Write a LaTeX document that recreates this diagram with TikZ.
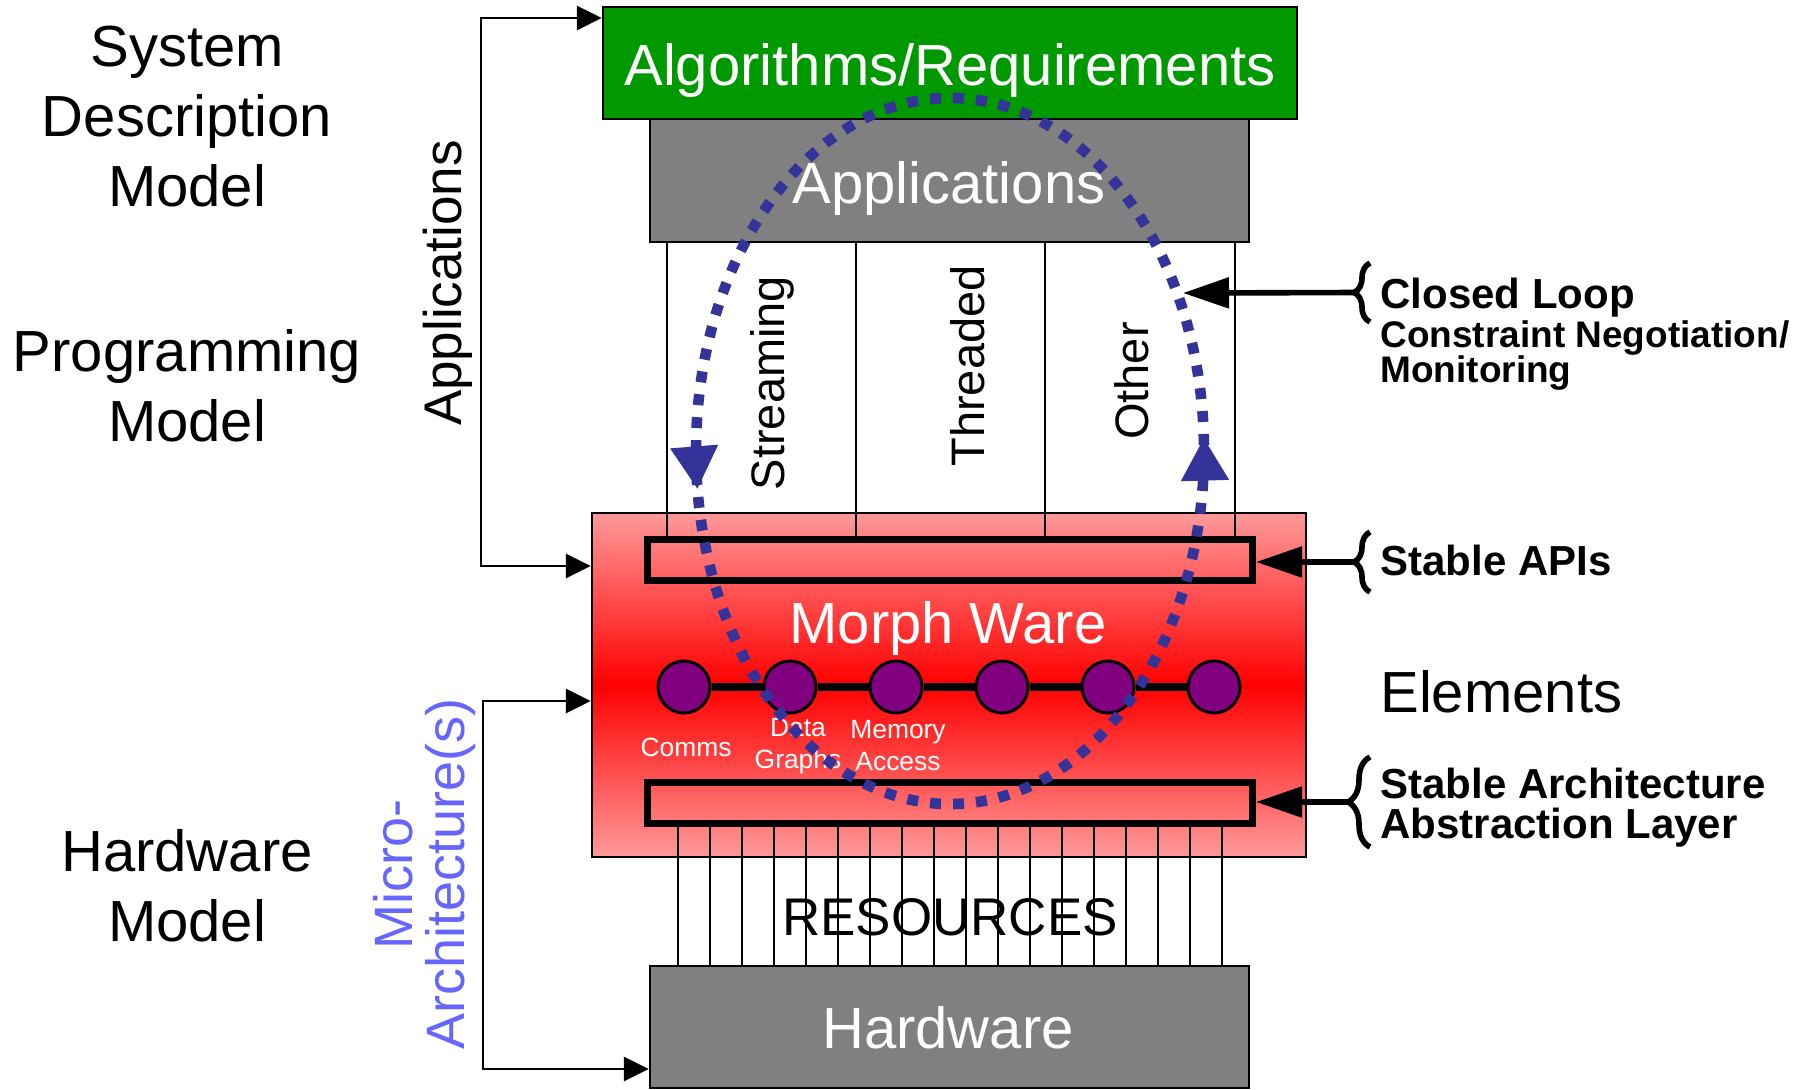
\documentclass[tikz,border=0pt]{standalone}
\usepackage{fontspec}
\setmainfont{Liberation Sans}
\usetikzlibrary{arrows.meta,decorations.pathreplacing,decorations.markings}

\definecolor{algcol}{HTML}{009900}
\definecolor{boxgray}{HTML}{808080}
\definecolor{pinkc}{HTML}{FF9999}
\definecolor{elemcol}{HTML}{800080}
\definecolor{loopcol}{HTML}{333399}
\definecolor{microcol}{HTML}{6666FF}

\begin{document}
\begin{tikzpicture}[x=0.5pt,y=-0.5pt,
  bigtxt/.style={font=\fontsize{29}{35}\selectfont},
  coltxt/.style={font=\fontsize{23.5}{28}\selectfont,rotate=90,anchor=base},
  sidetxt/.style={font=\fontsize{26.5}{30}\selectfont,rotate=90,anchor=base},
  tinytxt/.style={font=\fontsize{13.2}{16}\selectfont,text=white,align=center},
  boldtxt/.style={font=\bfseries\fontsize{21}{24}\selectfont,anchor=base west,inner sep=0pt},
  slab/.style={draw,line width=1.2pt,inner sep=0pt},
  bar/.style={draw,line width=3.5pt,inner sep=0pt,minimum width=302.5pt,minimum height=20.5pt},
  elem/.style={circle,draw,line width=1.5pt,fill=elemcol,minimum size=26pt,inner sep=0pt},
  larrow/.style={line width=1.4pt,{Triangle[length=12.5pt,width=12pt]}-{Triangle[length=12.5pt,width=12pt]}},
  rarrow/.style={line width=2.8pt,-{Triangle[length=23pt,width=15pt]}},
  cbrace/.style={line width=2.8pt,decorate},
  loopline/.style={loopcol,line width=5.3pt,dash pattern=on 5.5pt off 6pt,
    postaction={decorate,solid},
    decoration={markings,
      mark=at position 0.02 with {\arrow{Triangle[length=21.5pt,width=22.5pt]}},
      mark=at position 0.507 with {\arrow{Triangle[length=21.5pt,width=22.5pt]}}}},
]
\newcommand\sidebrace[4]{
\draw[cbrace,decoration={brace,amplitude=#4pt}] (1370,#3) -- (1370,#2);
\coordinate (#1) at ({1370-2*#4},{(#2+#3)/2});
}
\useasboundingbox (0,0) rectangle (1804,1089);

% models on the left
\node[bigtxt,align=center,anchor=north,inner sep=0pt] (sdm) at (187,26) {System\\Description\\Model};
\node[bigtxt,align=center,anchor=north,inner sep=0pt] (pgm) at (187,329) {Programming\\Model};
\node[bigtxt,align=center,anchor=north,inner sep=0pt] (hwm) at (187,829) {Hardware\\Model};

% top stack
\node[slab,fill=algcol,minimum width=347pt,minimum height=56pt] (alg) at (950,63) {};
\node[bigtxt,text=white,anchor=base] (algtxt) at (950,85) {Algorithms/Requirements};
\node[slab,fill=boxgray,minimum width=299.5pt,minimum height=61.5pt] (apps) at (949.5,180.5) {};
\node[bigtxt,text=white,anchor=base] (appstxt) at (949,203) {Applications};

% morph ware
\node[slab,top color=pinkc,bottom color=pinkc,middle color=red,minimum width=357pt,minimum height=172pt] (morph) at (949,685) {};
\foreach \x in {667,856,1045,1235} \draw[line width=0.6pt] (\x,242) -- (\x,537);
\node[bar] (api) at (950,560) {};
\node[bar] (saal) at (950,803) {};
\node[bigtxt,text=white,anchor=base] (mwtxt) at (948,643) {Morph Ware};
\foreach \i/\x in {1/684,2/790,3/896,4/1002,5/1108,6/1214} \node[elem] (e\i) at (\x,687) {};
\foreach \i/\j in {1/2,2/3,3/4,4/5,5/6} \draw[line width=4pt] (e\i) -- (e\j);
\node[tinytxt] (comms) at (686,747) {Comms};
\node[tinytxt] (dgr) at (798,746) {Data\\Graphs};
\node[tinytxt] (macc) at (898,746) {Memory\\Access};

% resources and hardware
\foreach \i in {0,...,17} \draw[line width=0.7pt] (678+32*\i,825) -- (678+32*\i,966);
\node[slab,fill=boxgray,minimum width=299.5pt,minimum height=61pt] (hw) at (949.5,1027) {};
\node[bigtxt,text=white,anchor=base] (hwtxt) at (948,1048) {Hardware};
\node[font=\fontsize{26.5}{30}\selectfont,anchor=base] (restxt) at (950,935) {RESOURCES};

% programming styles
\node[coltxt] (strm) at (784,383) {Streaming};
\node[coltxt] (thrd) at (984,366) {Threaded};
\node[coltxt] (othr) at (1148,381) {Other};

% left brackets
\node[sidetxt] (appl) at (461,283) {Applications};
\coordinate (aptop) at (481,18);
\coordinate (apbot) at (481,566);
\draw[larrow] (aptop -| alg.west) -- (aptop) -- (apbot) -- (apbot -| morph.west);
\node[sidetxt,font=\fontsize{27}{30}\selectfont,text=microcol] (micro) at (412,874) {Micro-};
\node[sidetxt,font=\fontsize{27}{30}\selectfont,text=microcol] (march) at (464,874) {Architecture(s)};
\coordinate (mtop) at (483,701);
\coordinate (mbot) at (483,1069);
\draw[larrow] (mtop -| morph.west) -- (mtop) -- (mbot) -- (mbot -| hw.west);

% right side
\sidebrace{cltip}{263}{322}{8}
\node[boldtxt] (cloop) at (1380,308) {Closed Loop};
\node[boldtxt,font=\bfseries\fontsize{18.5}{22}\selectfont] (cneg) at (1380,347) {Constraint Negotiation/};
\node[boldtxt,font=\bfseries\fontsize{18.5}{22}\selectfont] (cmon) at (1380,382) {Monitoring};
\coordinate (lpt) at (1183,293);
\draw[rarrow] (cltip) -- (lpt);
\sidebrace{aptip}{532}{592}{8}
\node[boldtxt] (sapi) at (1380,575) {Stable APIs};
\draw[rarrow] (aptip) -- (aptip -| api.east);
\node[bigtxt,anchor=base west,inner sep=0pt] (elems) at (1380,712) {Elements};
\sidebrace{satip}{757}{847}{11}
\node[boldtxt] (sarch) at (1380,798) {Stable Architecture};
\node[boldtxt] (sabs) at (1380,838) {Abstraction Layer};
\draw[rarrow] (satip) -- (satip -| saal.east);

% closed loop
\draw[loopline] (696,451) arc[start angle=180,end angle=-180,x radius=254,y radius=353];
\end{tikzpicture}
\end{document}
